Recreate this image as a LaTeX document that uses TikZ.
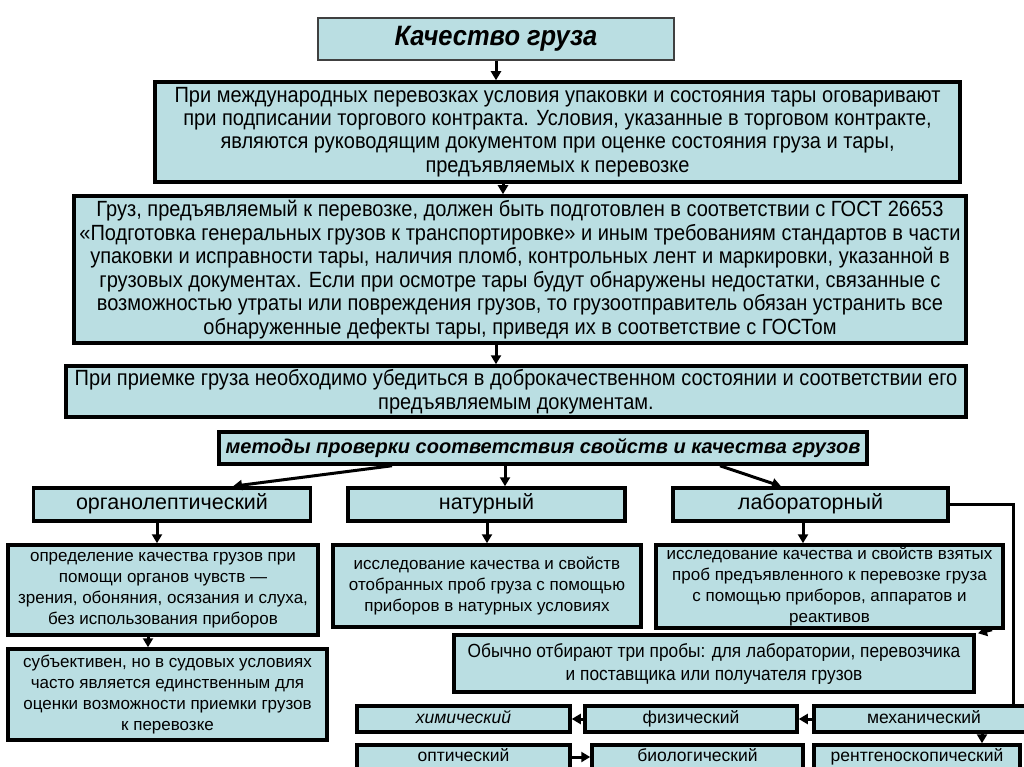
\documentclass[tikz,border=0pt]{standalone}
\usepackage{fontspec}
\setmainfont{Liberation Sans}
\newfontfamily\narrowfont{Liberation Sans}[FakeStretch=0.91]
\usetikzlibrary{arrows.meta,positioning}
\definecolor{boxfill}{RGB}{186,222,226}

\begin{document}
\begin{tikzpicture}[
    x=1pt, y=-1pt,
    >={Triangle[length=9pt,width=10pt]},
    every node/.style={
        draw=black,
        line width=3.5pt,
        fill=boxfill,
        inner sep=0pt,
        align=center
    },
    titlebox/.style={
        draw=black!75,
        line width=1.3pt,
        font=\narrowfont\bfseries\itshape\fontsize{28}{30}\selectfont
    },
    bigtext/.style={
        font=\narrowfont\fontsize{22}{#1}\selectfont
    },
    methodtext/.style={
        font=\bfseries\itshape\fontsize{20}{22}\selectfont
    },
    kindtext/.style={
        font=\fontsize{21.5}{23}\selectfont,
        text height=15pt,
        text depth=4.5pt
    },
    desctext/.style={
        font=\fontsize{17}{21}\selectfont
    },
    smalltext/.style={
        font=\fontsize{17.5}{19}\selectfont,
        text height=12.5pt,
        text depth=3.5pt
    },
    edge/.style={
        ->,
        line width=3pt
    }
]
\useasboundingbox (0,0) rectangle (1024,767);
\clip (0,0) rectangle (1024,767);

% Top column
\node[titlebox, minimum width=356, minimum height=42] (title) at (496,39) {Качество груза};
\node[bigtext=23.3, minimum width=805, minimum height=100] (contract) at (557.5,132)
    {При международных перевозках условия упаковки и состояния тары оговаривают\\
     при подписании торгового контракта. Условия, указанные в торговом контракте,\\
     являются руководящим документом при оценке состояния груза и тары,\\
     предъявляемых к перевозке};
\node[bigtext=23.5, minimum width=892, minimum height=147] (gost) at (520,269.5)
    {Груз, предъявляемый к перевозке, должен быть подготовлен в соответствии с ГОСТ 26653\\
     «Подготовка генеральных грузов к транспортировке» и иным требованиям стандартов в части\\
     упаковки и исправности тары, наличия пломб, контрольных лент и маркировки, указанной в\\
     грузовых документах. Если при осмотре тары будут обнаружены недостатки, связанные с\\
     возможностью утраты или повреждения грузов, то грузоотправитель обязан устранить все\\
     обнаруженные дефекты тары, приведя их в соответствие с ГОСТом};
\node[bigtext=24, minimum width=900, minimum height=51] (accept) at (516,391.5)
    {При приемке груза необходимо убедиться в доброкачественном состоянии и соответствии его\\
     предъявляемым документам.};

% Methods
\node[methodtext, minimum width=648, minimum height=32] (methods) at (543,448)
    {методы проверки соответствия свойств и качества грузов};
\node[kindtext, minimum width=277, minimum height=33] (organo) at (172,504.5) {органолептический};
\node[kindtext, minimum width=277, minimum height=33] (natur) at (486.5,504.5) {натурный};
\node[kindtext, minimum width=275, minimum height=33] (labor) at (810.5,504.5) {лабораторный};

% Descriptions
\node[desctext, minimum width=310, minimum height=90] (senses) at (163,590)
    {определение качества грузов при\\
     помощи органов чувств —\\
     зрения, обоняния, осязания и слуха,\\
     без использования приборов};
\node[desctext, minimum width=308, minimum height=82] (naturdesc) at (487,586)
    {исследование качества и свойств\\
     отобранных проб груза с помощью\\
     приборов в натурных условиях};
\node[desctext, minimum width=347, minimum height=83] (labordesc) at (829.5,586.5)
    {исследование качества и свойств взятых\\
     проб предъявленного к перевозке груза\\
     с помощью приборов, аппаратов и\\
     реактивов};
\node[desctext, minimum width=319, minimum height=91] (subject) at (167.5,694.5)
    {субъективен, но в судовых условиях\\
     часто является единственным для\\
     оценки возможности приемки грузов\\
     к перевозке};
\node[font=\narrowfont\fontsize{19}{23}\selectfont, minimum width=520, minimum height=57] (samples) at (714,663.5)
    {Обычно отбирают три пробы: для лаборатории, перевозчика\\
     и поставщика или получателя грузов};

% Laboratory kinds
\node[smalltext, minimum width=213, minimum height=26] (chem) at (463.5,719) {\itshape химический};
\node[smalltext, minimum width=212, minimum height=26] (phys) at (691,719) {физический};
\node[smalltext, minimum width=220, minimum height=26] (mech) at (924,719) {механический};
\node[smalltext, minimum width=213, minimum height=24] (optic) at (463.5,757) {оптический};
\node[smalltext, minimum width=211, minimum height=24] (bio) at (697.5,757) {биологический};
\node[smalltext, minimum width=206, minimum height=24] (xray) at (917,757) {рентгеноскопический};

% Edges
\draw[edge] (title.south) -- (contract.north -| title.south);
\draw[edge] (contract.south -| 503,0) -- (gost.north -| 503,0);
\draw[edge] (gost.south -| 496,0) -- (accept.north -| 496,0);

\draw[edge] (methods.south -| 392,0) -- (organo.north -| 233,0);
\draw[edge] (methods.south -| 505,0) -- (natur.north -| 505,0);
\draw[edge] (methods.south -| 720,0) -- (labor.north -| 781,0);

\draw[edge] (organo.south -| 157,0) -- (senses.north -| 157,0);
\draw[edge] (natur.south -| 487,0) -- (naturdesc.north -| 487,0);
\draw[edge] (labor.south -| 803,0) -- (labordesc.north -| 803,0);
\draw[edge] (senses.south -| 148,0) -- (subject.north -| 148,0);
\draw[edge] (labordesc.south -| 992,0) -- (samples.north -| 978,0);

\draw[line width=3pt] (labor.east) -- (labor.east -| 1013,0) -- (mech.north -| 1013,0);

\draw[edge] (phys.west) -- (chem.east);
\draw[edge] (mech.west) -- (phys.east);
\draw[edge] (optic.east) -- (bio.west);
\draw[edge] (mech.south -| 982,0) -- (xray.north -| 982,0);

\end{tikzpicture}
\end{document}
